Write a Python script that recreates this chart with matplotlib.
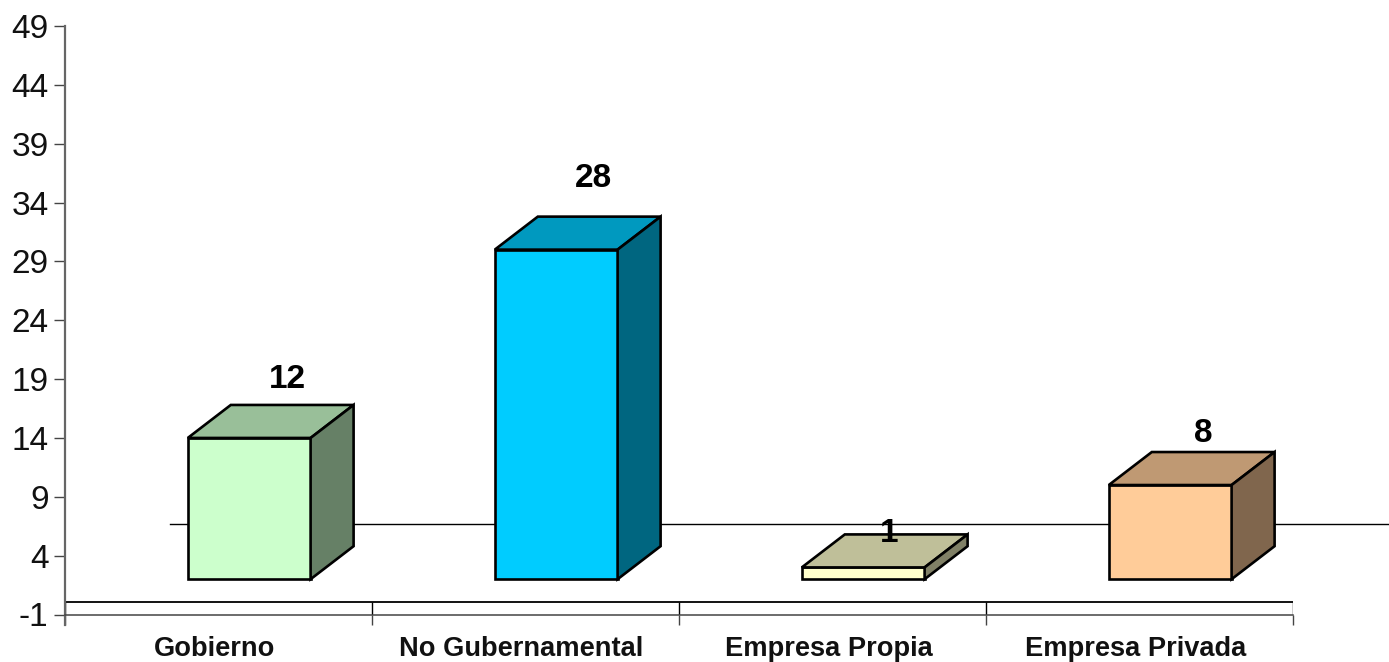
import matplotlib
matplotlib.use('Agg')
import matplotlib.pyplot as plt

plt.rcParams['font.family'] = ['Liberation Sans', 'DejaVu Sans']

categories = ['Gobierno', 'No Gubernamental', 'Empresa Propia', 'Empresa Privada']
values = [12, 28, 1, 8]
y_ticks = [-1, 4, 9, 14, 19, 24, 29, 34, 39, 44, 49]

front_colors = ['#CCFFCC', '#00CCFF', '#FFFFCC', '#FFCC99']
top_colors = ['#99BF99', '#0099BF', '#BFBF99', '#BF9973']
side_colors = ['#668066', '#006680', '#808066', '#80664D']

base = 2          # bars sit on this level
ref_level = 6.69  # thin horizontal rule behind the bars
floor_top = 0.06

W, H = 1389, 662
fig = plt.figure(figsize=(W / 100, H / 100), dpi=100)
ax = fig.add_axes([65 / W, 1 - 614.5 / H, (1293 - 65) / W, (614.5 - 26) / H])
ax.set_xlim(0, 4)
ax.set_ylim(-1, 49)

for s in ['top', 'right']:
    ax.spines[s].set_visible(False)
ax.spines['left'].set_color('#666666')
ax.spines['left'].set_linewidth(1.6)
ax.spines['bottom'].set_color('#444444')
ax.spines['bottom'].set_linewidth(1.1)
ax.spines['left'].set_bounds(-1.9, 49)

ax.set_yticks(y_ticks)
ax.set_yticklabels([str(t) for t in y_ticks], fontsize=24, color='#111111')
ax.tick_params(axis='y', direction='out', length=7.8, width=1.0, color='#444444', pad=4)
ax.set_xticks(range(5))
ax.set_xticklabels([])
ax.tick_params(axis='x', direction='out', length=7.5, width=1.0, color='#444444')

# floor of the 3D box
ax.plot([0, 4], [floor_top, floor_top], color='black', lw=1.3, zorder=2)
ax.vlines(range(5), -1, floor_top, color='black', lw=1.0, zorder=2)

ax.plot([0.342, 4.32], [ref_level, ref_level], color='black', lw=1.0,
        clip_on=False, zorder=1)

# depth of the fake 3D boxes, in data units
dx = 43 / 307
dy = 33 / 11.77
bar_w = 0.4
# label offset from the back edge of the box, pixels
label_dx = [-5, -6, -17, -10]
label_dy = [25, 38, 1, 19]

for i, v in enumerate(values):
    x0 = i + 0.4
    x1 = x0 + bar_w
    top = base + v
    ax.bar(x0, v, bar_w, bottom=base, align='edge', color=front_colors[i],
           edgecolor='black', linewidth=1.9, zorder=3)
    ax.fill([x0, x1, x1 + dx, x0 + dx], [top, top, top + dy, top + dy],
            facecolor=top_colors[i], edgecolor='black', linewidth=1.9, zorder=3,
            joinstyle='miter')
    ax.fill([x1, x1 + dx, x1 + dx, x1], [base, base + dy, top + dy, top],
            facecolor=side_colors[i], edgecolor='black', linewidth=1.9, zorder=3,
            joinstyle='miter')
    ax.annotate(str(v), xy=(x0 + bar_w / 2 + dx, top + dy),
                xytext=(label_dx[i], label_dy[i]),
                textcoords='offset pixels', ha='center', va='center',
                fontsize=24, fontweight='bold', color='black', zorder=5)
    ax.annotate(categories[i], xy=(i + 0.5, -1), xytext=(-4, -34),
                textcoords='offset pixels', ha='center', va='center',
                fontsize=19.6, fontweight='bold', color='#111111',
                annotation_clip=False)

fig.savefig('out.png', dpi=100, facecolor='white')
